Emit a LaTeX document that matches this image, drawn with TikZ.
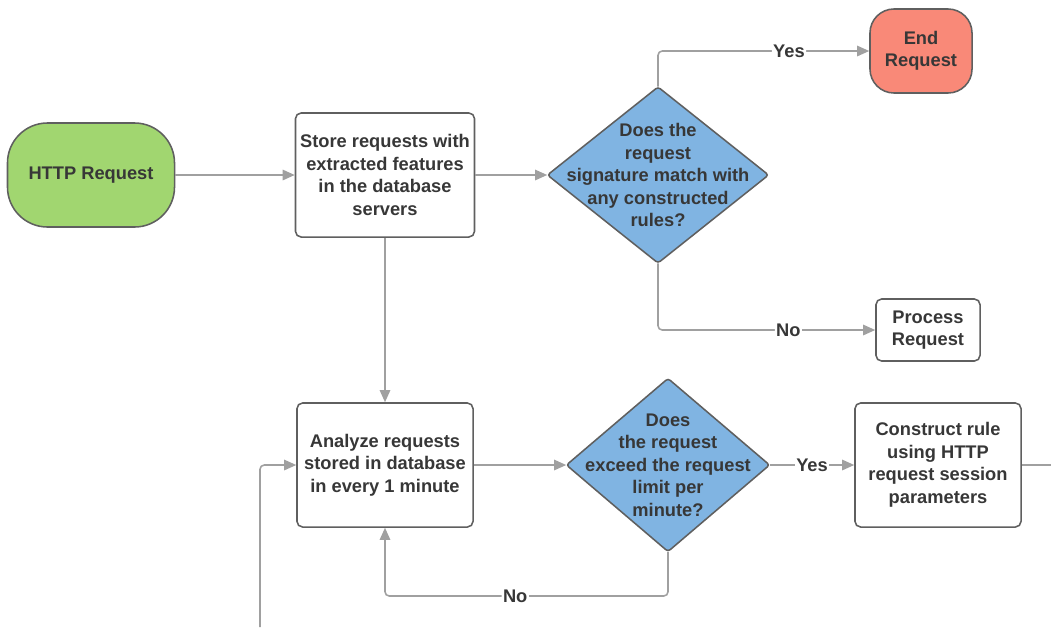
\documentclass[tikz,border=0pt]{standalone}
\usepackage{fontspec}
\setmainfont{Liberation Sans}
\usetikzlibrary{arrows.meta}

\definecolor{edgegray}{RGB}{160,160,160}
\definecolor{framegray}{RGB}{95,95,95}
\definecolor{txtgray}{RGB}{55,55,55}
\definecolor{startgreen}{RGB}{161,214,112}
\definecolor{endred}{RGB}{249,137,120}
\definecolor{askblue}{RGB}{128,180,226}

\tikzset{
  every node/.style={font=\bfseries\fontsize{13}{16}\selectfont, text=txtgray, align=center},
  conn/.style={draw=edgegray, line width=1.1pt, -{Triangle[length=3mm,width=2.6mm]}},
  lbl/.style={fill=white, inner sep=1pt},
  procbox/.style={draw=framegray, line width=1.1pt, rounded corners=4pt, fill=white},
  terminal/.style={draw=framegray, line width=1.1pt, inner sep=0pt},
  ask/.style={inner sep=0pt,
    path picture={\draw[draw=framegray, fill=askblue, line width=1.1pt, rounded corners=2pt]
      (path picture bounding box.north) -- (path picture bounding box.east) --
      (path picture bounding box.south) -- (path picture bounding box.west) -- cycle;}}
}

\begin{document}
\begin{tikzpicture}[x=0.025cm, y=-0.025cm]
    \useasboundingbox (0,0) rectangle (1051,627);

    % top row
    \node[terminal, fill=startgreen, rounded corners=1cm, minimum width=4.175cm, minimum height=2.6cm] (http) at (91,175) {HTTP Request};
    \node[procbox, minimum width=4.4cm, minimum height=3.1cm] (store) at (385,175) {Store requests with\\extracted features\\in the database\\servers};
    \node[ask, minimum width=5.525cm, minimum height=4.4cm] (match) at (658,175) {Does the\\request\\signature match with\\any constructed\\rules?};
    \node[terminal, fill=endred, rounded corners=0.6cm, minimum width=2.55cm, minimum height=2.1cm] (endreq) at (921,51) {End\\Request};
    \node[procbox, minimum width=2.6cm, minimum height=1.55cm] (process) at (928,330) {Process\\Request};

    % bottom row
    \node[procbox, minimum width=4.4cm, minimum height=3.1cm] (analyze) at (385,465) {Analyze requests\\stored in database\\in every 1 minute};
    \node[ask, minimum width=5.075cm, minimum height=4.325cm] (limit) at (668,465) {Does\\the request\\exceed the request\\limit per\\minute?};
    \node[procbox, minimum width=4.15cm, minimum height=3.1cm] (rule) at (938,465) {Construct rule\\using HTTP\\request session\\parameters};

    \coordinate (loopin) at (260,627);
    \coordinate (ruleout) at (1051,465);

    % connectors
    \draw[conn] (http) -- (store);
    \draw[conn] (store) -- (match);
    \draw[conn, rounded corners=3pt] (match.north) |- node[lbl, pos=0.81] {Yes} (endreq.west);
    \draw[conn, rounded corners=3pt] (match.south) |- node[lbl, pos=0.8] {No} (process.west);
    \draw[conn] (store) -- (analyze);
    \draw[conn] (analyze) -- (limit);
    \draw[conn] (limit) -- node[lbl] {Yes} (rule);
    \draw[conn, rounded corners=3pt] (limit.south) -- (limit.south |- 0,596) -| node[lbl, pos=0.27] {No} (analyze.south);
    \draw[conn, rounded corners=3pt] (loopin) |- (analyze.west);
    \draw[draw=edgegray, line width=1.1pt] (rule) -- (ruleout);
\end{tikzpicture}
\end{document}
